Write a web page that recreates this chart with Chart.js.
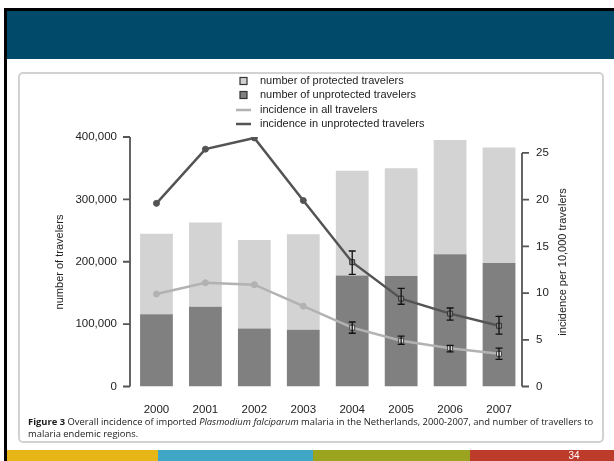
<!DOCTYPE html>
<html>
<head>
<meta charset="utf-8">
<script src="https://cdn.jsdelivr.net/npm/chart.js@4.4.1/dist/chart.umd.min.js"></script>
<style>
  html, body { margin: 0; padding: 0; background: #fff; }
  #slide { position: relative; width: 614px; height: 461px; overflow: hidden; }
  .abs { position: absolute; }
  #box {
    position: absolute; left: 18px; top: 72px; width: 586px; height: 371px;
    border: 2px solid #d2d2d2; border-radius: 5px; box-sizing: border-box;
  }
  #chart { position: absolute; left: 0; top: 0; }
  .cap {
    position: absolute; left: 28px; white-space: nowrap; color: #1a1a1a;
    font-family: "Open Sans", sans-serif; font-size: 9.4px; line-height: 11px;
  }
  #page {
    position: absolute; left: 560px; top: 450px; width: 28px; height: 11px;
    color: #fff; font-family: "Liberation Sans", Arial, sans-serif; font-size: 10px;
    line-height: 11px; text-align: center;
  }
</style>
</head>
<body>
<div id="slide">
  <div class="abs" style="left:4px;top:8px;width:610px;height:3px;background:#000"></div>
  <div class="abs" style="left:4px;top:8px;width:3px;height:453px;background:#000"></div>
  <div class="abs" style="left:7px;top:11px;width:607px;height:48px;background:#024a6a"></div>
  <div id="box"></div>
  <canvas id="chart" width="614" height="461"></canvas>
  <div class="cap" style="top:416px"><b>Figure 3</b> Overall incidence of imported <i>Plasmodium falciparum</i> malaria in the Netherlands, 2000-2007, and number of travellers to</div>
  <div class="cap" style="top:428px">malaria endemic regions.</div>
  <div class="abs" style="left:7px;top:450px;width:151px;height:11px;background:#e6b617"></div>
  <div class="abs" style="left:158px;top:450px;width:155px;height:11px;background:#3fa6c6"></div>
  <div class="abs" style="left:313px;top:450px;width:157px;height:11px;background:#9ba41e"></div>
  <div class="abs" style="left:470px;top:450px;width:144px;height:11px;background:#bd3b2b"></div>
  <div id="page">34</div>
</div>
<script>
// Imported P. falciparum malaria in the Netherlands, 2000-2007

const years = ["2000", "2001", "2002", "2003", "2004", "2005", "2006", "2007"];
const unprotectedTravelers = [116000, 128000, 93000, 91000, 178000, 177000, 212000, 198000];
const protectedTravelers = [129000, 135000, 142000, 153000, 168000, 173000, 183000, 185000];

const incidenceAll = [9.9, 11.1, 10.9, 8.6, 6.3, 4.9, 4.1, 3.5];
const incidenceAllLow = [null, null, null, null, 5.7, 4.5, 3.7, 2.9];
const incidenceAllHigh = [null, null, null, null, 6.9, 5.4, 4.4, 4.1];

const incidenceUnprotected = [19.6, 25.4, 26.6, 19.9, 13.3, 9.4, 7.8, 6.5];
const incidenceUnprotectedLow = [null, null, null, null, 12.0, 8.8, 7.1, 5.6];
const incidenceUnprotectedHigh = [null, null, null, null, 14.5, 10.5, 8.4, 7.5];

const leftTicks = [0, 100000, 200000, 300000, 400000];
const rightTicks = [0, 5, 10, 15, 20, 25];

const FONT = "'Liberation Sans', Arial, sans-serif";
const AXIS = "#555555";
const TEXT = "#222222";

const markerShapes = ["circle", "circle", "circle", "circle", "rect", "rect", "rect", "rect"];

// error bars on the incidence lines
const errorBars = {
  id: "errorBars",
  afterDatasetsDraw(chart) {
    const ctx = chart.ctx;
    const x = chart.scales.x;
    const y = chart.scales.y1;
    const sets = [
      [incidenceAllLow, incidenceAllHigh],
      [incidenceUnprotectedLow, incidenceUnprotectedHigh],
    ];
    ctx.save();
    ctx.strokeStyle = "#111";
    ctx.lineWidth = 1.3;
    sets.forEach(([lo, hi]) => {
      lo.forEach((v, i) => {
        if (v == null) return;
        const px = x.getPixelForValue(i);
        const y0 = y.getPixelForValue(v);
        const y1 = y.getPixelForValue(hi[i]);
        ctx.beginPath();
        ctx.moveTo(px, y0); ctx.lineTo(px, y1);
        ctx.moveTo(px - 3.5, y0); ctx.lineTo(px + 3.5, y0);
        ctx.moveTo(px - 3.5, y1); ctx.lineTo(px + 3.5, y1);
        ctx.stroke();
      });
    });
    ctx.restore();
  },
};

// R-style axes, titles and the legend block at the top
const decorations = {
  id: "decorations",
  afterDraw(chart) {
    const ctx = chart.ctx;
    const area = chart.chartArea;
    const yl = chart.scales.y;
    const yr = chart.scales.y1;
    ctx.save();
    ctx.strokeStyle = AXIS;
    ctx.lineWidth = 1.8;

    const lx = area.left - 2;
    ctx.beginPath();
    ctx.moveTo(lx, yl.getPixelForValue(leftTicks[0]));
    ctx.lineTo(lx, yl.getPixelForValue(leftTicks[leftTicks.length - 1]));
    leftTicks.forEach((v) => {
      const py = yl.getPixelForValue(v);
      ctx.moveTo(lx, py); ctx.lineTo(lx - 7, py);
    });
    ctx.stroke();

    const rx = area.right - 1.5;
    ctx.beginPath();
    ctx.moveTo(rx, yr.getPixelForValue(rightTicks[0]));
    ctx.lineTo(rx, yr.getPixelForValue(rightTicks[rightTicks.length - 1]));
    rightTicks.forEach((v) => {
      const py = yr.getPixelForValue(v);
      ctx.moveTo(rx, py); ctx.lineTo(rx + 7, py);
    });
    ctx.stroke();

    // axis titles
    ctx.fillStyle = TEXT;
    ctx.font = "11px " + FONT;
    ctx.textAlign = "center";
    ctx.textBaseline = "middle";
    ctx.save();
    ctx.translate(60, 262);
    ctx.rotate(-Math.PI / 2);
    ctx.fillText("number of travelers", 0, 0);
    ctx.restore();
    ctx.save();
    ctx.translate(563, 262);
    ctx.rotate(-Math.PI / 2);
    ctx.fillText("incidence per 10,000 travelers", 0, 0);
    ctx.restore();

    // legend
    const ds = chart.data.datasets;
    const items = [ds[3], ds[2], ds[0], ds[1]];
    const rows = [81, 95, 110, 124];
    ctx.textAlign = "left";
    items.forEach((d, i) => {
      const cy = rows[i];
      if (d.type === "bar") {
        ctx.fillStyle = d.backgroundColor;
        ctx.fillRect(240, cy - 3.5, 7, 7);
        ctx.strokeStyle = "#333";
        ctx.lineWidth = 1.2;
        ctx.strokeRect(240, cy - 3.5, 7, 7);
      } else {
        ctx.strokeStyle = d.borderColor;
        ctx.lineWidth = 2.5;
        ctx.beginPath();
        ctx.moveTo(236, cy); ctx.lineTo(251, cy);
        ctx.stroke();
      }
      ctx.fillStyle = TEXT;
      ctx.fillText(d.label, 260, cy);
    });
    ctx.restore();
  },
};

new Chart(document.getElementById("chart").getContext("2d"), {
  data: {
    labels: years,
    datasets: [
      {
        type: "line",
        label: "incidence in all travelers",
        data: incidenceAll,
        yAxisID: "y1",
        order: 0,
        borderColor: "#b2b2b2",
        borderWidth: 2.5,
        tension: 0,
        pointStyle: markerShapes,
        pointRadius: [3, 3, 3, 3, 3.5, 3.5, 3.5, 3.5],
        pointBackgroundColor: ["#b2b2b2", "#b2b2b2", "#b2b2b2", "#b2b2b2", "#e4e4e4", "#e4e4e4", "#e4e4e4", "#e4e4e4"],
        pointBorderColor: ["#b2b2b2", "#b2b2b2", "#b2b2b2", "#b2b2b2", "#444", "#444", "#444", "#444"],
        pointBorderWidth: 1,
      },
      {
        type: "line",
        label: "incidence in unprotected travelers",
        data: incidenceUnprotected,
        yAxisID: "y1",
        order: 0,
        borderColor: "#545454",
        borderWidth: 2.5,
        tension: 0,
        pointStyle: markerShapes,
        pointRadius: [3, 3, 3, 3, 3.5, 3.5, 3.5, 3.5],
        pointBackgroundColor: ["#545454", "#545454", "#545454", "#545454", "#8a8a8a", "#8a8a8a", "#8a8a8a", "#8a8a8a"],
        pointBorderColor: ["#545454", "#545454", "#545454", "#545454", "#333", "#333", "#333", "#333"],
        pointBorderWidth: 1,
      },
      {
        type: "bar",
        label: "number of unprotected travelers",
        data: unprotectedTravelers,
        yAxisID: "y",
        order: 1,
        backgroundColor: "#808080",
        barPercentage: 1,
        categoryPercentage: 0.67,
      },
      {
        type: "bar",
        label: "number of protected travelers",
        data: protectedTravelers,
        yAxisID: "y",
        order: 2,
        backgroundColor: "#d3d3d3",
        barPercentage: 1,
        categoryPercentage: 0.67,
      },
    ],
  },
  options: {
    responsive: false,
    animation: false,
    layout: { padding: { top: 137, left: 0, right: 0, bottom: 0 } },
    plugins: {
      legend: { display: false },
      tooltip: { enabled: false },
    },
    scales: {
      x: {
        stacked: true,
        offset: true,
        grid: { display: false, drawTicks: false },
        border: { display: false },
        ticks: { color: TEXT, font: { family: FONT, size: 11.5 }, padding: 16.5 },
        afterFit: (s) => { s.height = 74.5; },
      },
      y: {
        position: "left",
        stacked: true,
        min: 0,
        max: 400000,
        grid: { display: false, drawTicks: false },
        border: { display: false },
        afterBuildTicks: (s) => { s.ticks = leftTicks.map((v) => ({ value: v })); },
        ticks: {
          color: TEXT,
          font: { family: FONT, size: 11.5 },
          padding: 15,
          callback: (v) => v.toLocaleString("en-US"),
        },
        afterFit: (s) => { s.width = 132; },
      },
      y1: {
        position: "right",
        min: 0,
        max: 26.7,
        grid: { display: false, drawTicks: false },
        border: { display: false },
        afterBuildTicks: (s) => { s.ticks = rightTicks.map((v) => ({ value: v })); },
        ticks: { color: TEXT, font: { family: FONT, size: 11.5 }, padding: 12.5 },
        afterFit: (s) => { s.width = 90.5; },
      },
    },
  },
  plugins: [errorBars, decorations],
});
</script>
</body>
</html>
